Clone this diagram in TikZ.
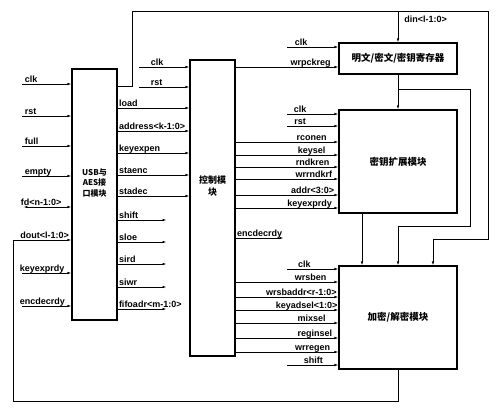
\documentclass[tikz,border=0pt]{standalone}
\usepackage{fontspec}
\setmainfont{Liberation Sans}
\newfontfamily\cjk{Noto Sans CJK SC}
\usetikzlibrary{arrows.meta, positioning}

\begin{document}
\begin{tikzpicture}[x=1pt, y=-1pt,
    module/.style={draw, line width=1.1pt, inner sep=0pt, align=center, font=\cjk\bfseries\fontsize{9.5}{12}\selectfont},
    sig/.style={line width=0.9pt, -{Latex[length=4pt, width=2.6pt]}},
    sigin/.style={line width=0.9pt, {Latex[length=4pt, width=2.6pt]}-},
    sigio/.style={line width=0.9pt, {Latex[length=4pt, width=2.6pt]}-{Latex[length=4pt, width=2.6pt]}},
    lbl/.style={font=\bfseries\fontsize{9}{10}\selectfont, inner sep=1pt, yshift=1.5pt},
    lw/.style={lbl, anchor=base west},
    lc/.style={lbl, anchor=base}]
    \useasboundingbox (0,0) rectangle (500,412);

    % Modules
    \node[module, minimum width=45pt, minimum height=251pt,
          label={[font=\cjk\bfseries\fontsize{8}{10.5}\selectfont, align=center, yshift=11.5pt]center:{USB与\\AES接\\口模块}}] (usb) at (94.5,194.5) {};
    \node[module, minimum width=45pt, minimum height=296pt,
          label={[font=\cjk\bfseries\fontsize{9}{12}\selectfont, align=center, yshift=22pt]center:{控制模\\块}}] (ctrl) at (212.5,208) {};
    \node[module, minimum width=118pt, minimum height=31pt] (reg) at (398,58.5) {明文/密文/密钥寄存器};
    \node[module, minimum width=118pt, minimum height=103pt] (kexp) at (398,161.5) {密钥扩展模块};
    \node[module, minimum width=118pt, minimum height=103pt] (encd) at (398,317.5) {加密/解密模块};

    % Bends of the long wires
    \coordinate (busup) at (132,11);
    \coordinate (busdn) at (488,239);
    \coordinate (rbus) at (470,226);
    \coordinate (fbl) at (13,240);

    % Data bus over the top
    \draw[sig] (usb.east |- 0,86) -| (busup) -| (busdn) -| ([xshift=35pt]encd.north);
    \draw[sig] (reg.north |- busup) -- node[lw, pos=0.42, xshift=5pt] {din<l-1:0>} (reg.north);

    % Register and key expansion outputs
    \draw[sig] (reg.south) -- (kexp.north);
    \draw[sig] ([yshift=-15pt]reg.south) -| (rbus) -| (encd.north);
    \draw[sig] ([xshift=-36pt]kexp.south) -- ([xshift=-36pt]encd.north);

    % Feedback to the USB module
    \draw[sig] (encd.south) -- ++(0,32) -| (fbl) -- node[lc, pos=0.54] {dout<l-1:0>} (usb.west |- fbl);

    % USB inputs
    \draw[sigin] (usb.west |- 0,84) -- ++(-49,0) node[lw, xshift=1pt] {clk};
    \draw[sigin] (usb.west |- 0,116) -- ++(-49,0) node[lw, xshift=1pt] {rst};
    \draw[sigin] (usb.west |- 0,146) -- ++(-49,0) node[lw, xshift=1pt] {full};
    \draw[sigin] (usb.west |- 0,176) -- ++(-49,0) node[lw, xshift=1pt] {empty};
    \draw[sigio] (usb.west |- 0,207) -- ++(-48,0) node[lw, xshift=-4pt] {fd<n-1:0>};
    \draw[sigin] (usb.west |- 0,273) -- ++(-49,0) node[lw, xshift=-4pt] {keyexprdy};
    \draw[sigin] (usb.west |- 0,306) -- ++(-49,0) node[lw, xshift=-4pt] {encdecrdy};

    % USB outputs
    \draw[sig] (usb.east |- 0,108) node[lw] {load} -- (ctrl.west |- 0,108);
    \draw[sig] (usb.east |- 0,131) node[lw] {address<k-1:0>} -- (ctrl.west |- 0,131);
    \draw[sig] (usb.east |- 0,153) node[lw] {keyexpen} -- (ctrl.west |- 0,153);
    \draw[sig] (usb.east |- 0,175) node[lw] {staenc} -- (ctrl.west |- 0,175);
    \draw[sig] (usb.east |- 0,196) node[lw] {stadec} -- (ctrl.west |- 0,196);
    \draw[sig] (usb.east |- 0,220) node[lw] {shift} -- ++(49,0);
    \draw[sig] (usb.east |- 0,242) node[lw] {sloe} -- ++(49,0);
    \draw[sig] (usb.east |- 0,264) node[lw] {sird} -- ++(49,0);
    \draw[sig] (usb.east |- 0,287) node[lw] {siwr} -- ++(49,0);
    \draw[sig] (usb.east |- 0,309) node[lw] {fifoadr<m-1:0>} -- ++(49,0);

    % Control inputs
    \draw[sigin] (ctrl.west |- 0,67) -- ++(-50,0) node[lw, xshift=10pt] {clk};
    \draw[sigin] (ctrl.west |- 0,87) -- ++(-50,0) node[lw, xshift=10pt] {rst};

    % Register inputs
    \draw[sigin] (reg.west |- 0,47) -- ++(-51,0) node[lw, xshift=6pt] {clk};
    \draw[sig] (ctrl.east |- 0,67) -- node[lc, pos=0.73] {wrpckreg} (reg.west |- 0,67);

    % Key expansion inputs
    \draw[sigin] (kexp.west |- 0,114) -- node[lc, pos=0.75] {clk} ++(-51,0);
    \draw[sigin] (kexp.west |- 0,126) -- node[lc, pos=0.75] {rst} ++(-51,0);
    \draw[sig] (ctrl.east |- 0,142) -- node[lc, pos=0.74] {rconen} (kexp.west |- 0,142);
    \draw[sig] (ctrl.east |- 0,155) -- node[lc, pos=0.74] {keysel} (kexp.west |- 0,155);
    \draw[sig] (ctrl.east |- 0,167) -- node[lc, pos=0.75] {rndkren} (kexp.west |- 0,167);
    \draw[sig] (ctrl.east |- 0,179) -- node[lc, pos=0.76] {wrrndkrf} (kexp.west |- 0,179);
    \draw[sig] (ctrl.east |- 0,195) -- node[lc, pos=0.75] {addr<3:0>} (kexp.west |- 0,195);
    \draw[sig] (ctrl.east |- 0,208) -- node[lc, pos=0.72] {keyexprdy} (kexp.west |- 0,208);

    % Status out of the control module
    \draw[sig] (ctrl.east |- 0,238) node[lw] {encdecrdy} -- ++(48,0);

    % Encryption / decryption inputs
    \draw[sigin] (encd.west |- 0,269) -- node[lc, pos=0.67] {clk} ++(-51,0);
    \draw[sig] (ctrl.east |- 0,282) -- node[lc, pos=0.73] {wrsben} (encd.west |- 0,282);
    \draw[sig] (ctrl.east |- 0,297) -- node[lc, pos=0.64] {wrsbaddr<r-1:0>} (encd.west |- 0,297);
    \draw[sig] (ctrl.east |- 0,310) -- node[lc, pos=0.69] {keyadsel<1:0>} (encd.west |- 0,310);
    \draw[sig] (ctrl.east |- 0,323) -- node[lc, pos=0.74] {mixsel} (encd.west |- 0,323);
    \draw[sig] (ctrl.east |- 0,338) -- node[lc, pos=0.77] {reginsel} (encd.west |- 0,338);
    \draw[sig] (ctrl.east |- 0,352) -- node[lc, pos=0.75] {wrregen} (encd.west |- 0,352);
    \draw[sigin] (encd.west |- 0,365) -- node[lc, pos=0.49] {shift} ++(-51,0);
\end{tikzpicture}
\end{document}
